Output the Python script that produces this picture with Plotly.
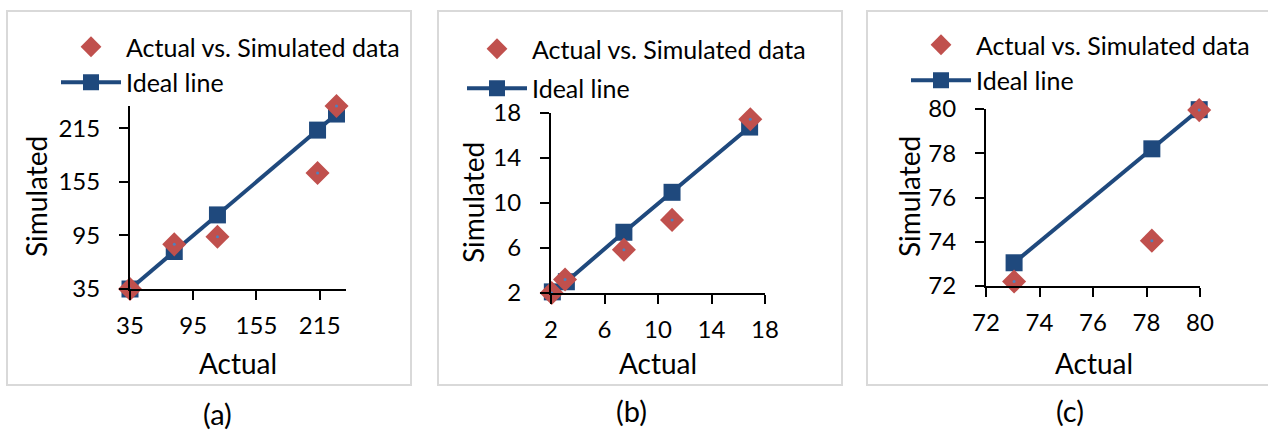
import plotly.graph_objects as go

W, H = 1268, 434

# ---------------- data ----------------
a_actual = [35, 77, 118, 213, 231]
a_sim = [35, 85, 93.5, 165, 240]
a_ideal = [35, 77, 118, 213, 231]

b_actual = [2.05, 3.05, 7.45, 11.05, 16.9]
b_sim = [2.0, 3.2, 5.85, 8.5, 17.45]
b_ideal_x = [2.1, 3.15, 7.45, 11.05, 16.85]
b_ideal_y = [2.1, 3.0, 7.4, 10.95, 16.75]

c_actual = [73.05, 78.2, 79.97]
c_sim = [72.2, 74.05, 79.95]
c_ideal = [73.05, 78.2, 79.97]

panel_labels = ["(a)", "(b)", "(c)"]
x_title = "Actual"
y_title = "Simulated"
series_names = ["Actual vs. Simulated data", "Ideal line"]

# ---------------- styles ----------------
FONT = "Lato"
RED = "#c0504d"
BLUE = "#1f497d"
DOT = "#4f81bd"
TICKFS = 24
TITLEFS = 28
LEGFS = 25

def fx(px):
    return px / W

def fy(py):
    return 1 - py / H

panels = [
    dict(ax=a_actual, sy=a_sim, ix=a_ideal, iy=a_ideal, rng=[35, 240], dt=60, mdt=30,
         xd=[130, 346], yd=[106, 289], box=[7, 11, 411, 385], lab=(217, 413),
         xt=(238, 363), yt=(36, 197), leg=(56, 24), gap=0),
    dict(ax=b_actual, sy=b_sim, ix=b_ideal_x, iy=b_ideal_y, rng=[2, 18], dt=4, mdt=2,
         xd=[551, 765], yd=[113, 293], box=[438, 11, 842, 385], lab=(631, 410),
         xt=(658, 363), yt=(473, 203), leg=(462, 26), gap=4),
    dict(ax=c_actual, sy=c_sim, ix=c_ideal, iy=c_ideal, rng=[72, 80], dt=2, mdt=1,
         xd=[986, 1200], yd=[109, 286], box=[867, 11, 1275, 385], lab=(1070, 410),
         xt=(1094, 363), yt=(909, 197), leg=(906, 22), gap=0),
]

fig = go.Figure()
layout = dict(
    template="none",
    width=W, height=H, margin=dict(l=0, r=0, t=0, b=0, pad=0, autoexpand=False),
    paper_bgcolor="white", plot_bgcolor="rgba(0,0,0,0)",
    font=dict(family=FONT, color="black", size=TICKFS),
    showlegend=True, shapes=[], annotations=[],
)

for i, p in enumerate(panels):
    n = i + 1
    xa = "x" if n == 1 else f"x{n}"
    ya = "y" if n == 1 else f"y{n}"
    xkey = "xaxis" if n == 1 else f"xaxis{n}"
    ykey = "yaxis" if n == 1 else f"yaxis{n}"
    leg = "legend" if n == 1 else f"legend{n}"

    fig.add_trace(go.Scatter(
        x=p["ix"], y=p["iy"], mode="lines+markers", name=series_names[1],
        line=dict(color=BLUE, width=4),
        marker=dict(symbol="square", size=17, color=BLUE),
        xaxis=xa, yaxis=ya, legend=leg, legendrank=2, legendgroup=f"i{n}",
        cliponaxis=False,
    ))
    fig.add_trace(go.Scatter(
        x=p["ax"], y=p["sy"], mode="markers", name=series_names[0],
        marker=dict(symbol="diamond", size=18.5, color=RED),
        xaxis=xa, yaxis=ya, legend=leg, legendrank=1, legendgroup=f"d{n}",
        cliponaxis=False,
    ))
    fig.add_trace(go.Scatter(
        x=p["ax"], y=p["sy"], mode="markers", showlegend=False,
        marker=dict(symbol="circle", size=3, color=DOT),
        xaxis=xa, yaxis=ya, cliponaxis=False, hoverinfo="skip",
    ))

    common = dict(range=p["rng"], dtick=p["dt"], tick0=p["rng"][0], showgrid=False,
                  zeroline=False, showline=True, linecolor="black", linewidth=2,
                  ticks="outside", ticklen=9, tickwidth=2, tickcolor="black",
                  automargin=False,
                  tickfont=dict(family=FONT, size=TICKFS, color="black"))
    layout[xkey] = dict(domain=[fx(p["xd"][0]), fx(p["xd"][1])], anchor=ya,
                        ticklabelstandoff=5, **common)
    layout[ykey] = dict(domain=[fy(p["yd"][1]), fy(p["yd"][0])], anchor=xa,
                        ticklabelstandoff=14, **common)

    # overlay axes for inside tick halves (major + minor)
    ox = 3 + 2 * i + 1
    oy = 3 + 2 * i + 2
    inside = dict(range=p["rng"], dtick=p["mdt"], tick0=p["rng"][0], showgrid=False,
                  zeroline=False, showline=False, ticks="inside", ticklen=7,
                  tickwidth=2, tickcolor="black", showticklabels=False, automargin=False)
    layout[f"xaxis{ox}"] = dict(overlaying=xa, anchor=ya, side="bottom", **inside)
    layout[f"yaxis{oy}"] = dict(overlaying=ya, anchor=xa, side="left", **inside)

    layout[leg] = dict(x=fx(p["leg"][0]), y=fy(p["leg"][1]), xanchor="left", yanchor="top",
                       bgcolor="rgba(0,0,0,0)", borderwidth=0, tracegroupgap=p["gap"],
                       itemwidth=60, font=dict(family=FONT, size=LEGFS, color="black"),
                       traceorder="grouped")

    b = p["box"]
    layout["shapes"].append(dict(type="rect", xref="paper", yref="paper",
                                 x0=fx(b[0]), x1=fx(b[2]), y0=fy(b[3]), y1=fy(b[1]),
                                 line=dict(color="#d9d9d9", width=2), layer="below"))
    layout["annotations"].append(dict(text=panel_labels[i], xref="paper", yref="paper",
                                      x=fx(p["lab"][0]), y=fy(p["lab"][1]), showarrow=False,
                                      xanchor="center", yanchor="middle",
                                      font=dict(family=FONT, size=29, color="black")))
    layout["annotations"].append(dict(text=x_title, xref="paper", yref="paper",
                                      x=fx(p["xt"][0]), y=fy(p["xt"][1]), showarrow=False,
                                      xanchor="center", yanchor="middle",
                                      font=dict(family=FONT, size=TITLEFS, color="black")))
    layout["annotations"].append(dict(text=y_title, xref="paper", yref="paper",
                                      x=fx(p["yt"][0]), y=fy(p["yt"][1]), showarrow=False,
                                      xanchor="center", yanchor="middle", textangle=-90,
                                      font=dict(family=FONT, size=TITLEFS, color="black")))

fig.update_layout(**layout)
fig.write_html("out.html")
